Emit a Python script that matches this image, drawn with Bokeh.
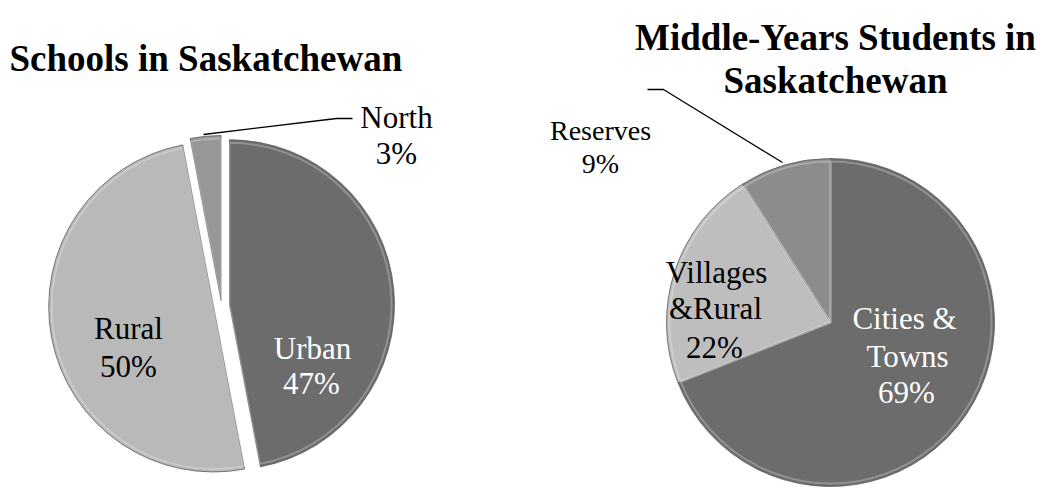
import numpy as np
from bokeh.plotting import figure
from bokeh.models import Range1d, ColumnDataSource
from bokeh.core.properties import value
from bokeh.embed import file_html
from bokeh.resources import INLINE

# ---- data ----
schools_labels = ["Urban", "Rural", "North"]
schools_values = [47, 50, 3]
students_labels = ["Cities &\nTowns", "Villages\n&Rural", "Reserves"]
students_values = [69, 22, 9]
title_left = ["Schools in Saskatchewan"]
title_right = ["Middle-Years Students in", "Saskatchewan"]

# ---- style / layout ----
W, H = 1040, 489
FONT = value("Liberation Serif")
schools_colors = ["#6c6c6c", "#b9b9b9", "#979797"]
students_colors = ["#6c6c6c", "#bebebe", "#8c8c8c"]
schools_explode = [8, 8, 5]
students_explode = [0, 0, 0]


def X(sx):
    return sx


def Y(sy):
    return H - sy


p = figure(width=W, height=H, x_range=Range1d(0, W), y_range=Range1d(0, H),
           output_backend="svg", toolbar_location=None, min_border=0,
           x_axis_type=None, y_axis_type=None)
p.grid.visible = False
p.outline_line_color = None
p.background_fill_color = "white"
p.border_fill_color = "white"


def pie(cx, cy, r, vals, colors, explode):
    vals = np.asarray(vals, dtype=float)
    frac = vals / vals.sum()
    cum = np.concatenate([[0], np.cumsum(frac)])
    start = np.pi / 2 - 2 * np.pi * cum[:-1]
    end = np.pi / 2 - 2 * np.pi * cum[1:]
    mid = (start + end) / 2
    xs = [X(cx) + e * np.cos(m) for e, m in zip(explode, mid)]
    ys = [Y(cy) + e * np.sin(m) for e, m in zip(explode, mid)]
    src = ColumnDataSource(dict(x=xs, y=ys, s=list(start), e=list(end), c=colors))
    p.wedge(x="x", y="y", radius=r, radius_units="screen", start_angle="s", end_angle="e",
            direction="clock", fill_color="c", line_color="#5a5a5a", line_width=1,
            line_alpha=0.8, source=src)
    p.wedge(x="x", y="y", radius=r - 3, radius_units="screen", start_angle="s", end_angle="e",
            direction="clock", fill_color=None, line_color="white", line_width=2,
            line_alpha=0.25, source=src)


pie(221, 305, 165, schools_values, schools_colors, schools_explode)
pie(830, 322, 164, students_values, students_colors, students_explode)

# leader lines
p.line([X(352), X(336), X(203)], [Y(118), Y(118), Y(134)], line_color="black", line_width=1.3)
p.line([X(647), X(663), X(782)], [Y(89), Y(89), Y(162)], line_color="black", line_width=1.3)


def lab(lines, xs, baselines, color, size="31px"):
    for t, x, b in zip(lines, xs, baselines):
        p.text(x=[X(x)], y=[Y(b)], text=[t], text_font=FONT, text_font_size=size,
               text_color=color, text_align="center", text_baseline="alphabetic")


def lines_of(label, v):
    return label.split("\n") + [f"{v}%"]


lab(lines_of(schools_labels[0], schools_values[0]), [312, 311], [348, 383], "white")
lab(lines_of(schools_labels[1], schools_values[1]), [128, 128], [328, 366], "black")
lab(lines_of(schools_labels[2], schools_values[2]), [396, 396], [117, 153], "black")
lab(lines_of(students_labels[0], students_values[0]), [904, 907, 906], [318, 356, 392], "white")
lab(lines_of(students_labels[1], students_values[1]), [716, 715, 714], [272, 308, 347], "black")
lab(lines_of(students_labels[2], students_values[2]), [600, 600], [130, 163], "black", size="28px")

# titles
p.text(x=[X(9)], y=[Y(58)], text=title_left, text_font=FONT, text_font_size="37px",
       text_font_style="bold", text_color="black", text_align="left", text_baseline="alphabetic")
for t, b in zip(title_right, [37, 80]):
    p.text(x=[X(835)], y=[Y(b)], text=[t], text_font=FONT, text_font_size="37px",
           text_font_style="bold", text_color="black", text_align="center",
           text_baseline="alphabetic")

open("out.html", "w").write(file_html(p, INLINE))
